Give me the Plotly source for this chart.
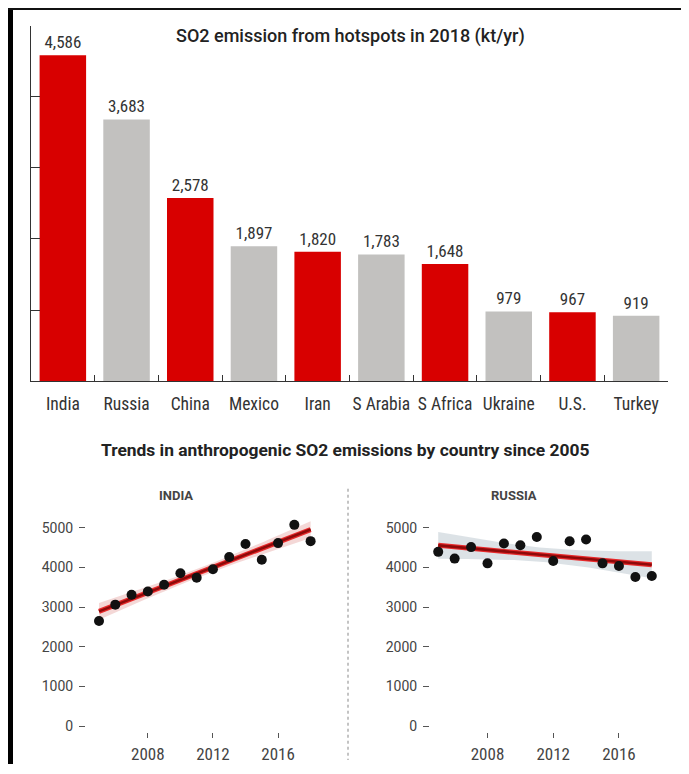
import numpy as np
import plotly.graph_objects as go

# ---------------- data ----------------
countries = ["India", "Russia", "China", "Mexico", "Iran", "S Arabia", "S Africa", "Ukraine", "U.S.", "Turkey"]
emissions_2018 = [4586, 3683, 2578, 1897, 1820, 1783, 1648, 979, 967, 919]
highlighted = ["India", "China", "Iran", "S Africa", "U.S."]

years = [2005, 2006, 2007, 2008, 2009, 2010, 2011, 2012, 2013, 2014, 2015, 2016, 2017, 2018]
india_so2 = [2650, 3060, 3310, 3390, 3560, 3850, 3740, 3950, 4260, 4590, 4190, 4610, 5070, 4660]
russia_so2 = [4390, 4220, 4510, 4100, 4600, 4555, 4765, 4160, 4655, 4700, 4100, 4035, 3755, 3780]

bar_yticks = [0, 1000, 2000, 3000, 4000, 5000]
trend_yticks = [0, 1000, 2000, 3000, 4000, 5000]
trend_xticks = [2008, 2012, 2016]
T_975_DF12 = 2.1788  # t quantile for 95% CI with n-2 = 12 dof

# ---------------- styling ----------------
OFF = 8                      # page body margin of the browser
FW, FH = 689 - 2 * OFF, 774 - 2 * OFF
RED = "#d80000"
GREY = "#c2c1bf"
TXT = "#333333"
COND = "Roboto Condensed, Liberation Sans Narrow, DejaVu Sans Condensed, sans-serif"
GEO = "Roboto, Inter, Lato, sans-serif"


def px(x):
    return (x - OFF) / FW


def py(y):
    return 1 - (y - OFF) / FH


def fit_band(x, y):
    x = np.asarray(x, float)
    y = np.asarray(y, float)
    n = len(x)
    b, a = np.polyfit(x, y, 1)
    resid = y - (a + b * x)
    s = np.sqrt(np.sum(resid ** 2) / (n - 2))
    xm = x.mean()
    sxx = np.sum((x - xm) ** 2)
    xs = np.linspace(x.min(), x.max(), 60)
    yhat = a + b * xs
    se = s * np.sqrt(1 / n + (xs - xm) ** 2 / sxx)
    return xs, yhat, yhat - T_975_DF12 * se, yhat + T_975_DF12 * se


fig = go.Figure()

# bar chart
bar_colors = [RED if c in highlighted else GREY for c in countries]
fig.add_trace(go.Bar(
    x=countries, y=emissions_2018, marker=dict(color=bar_colors, line=dict(width=0)),
    text=[f"{v:,}" for v in emissions_2018], textposition="outside",
    textfont=dict(family=COND, size=17, color=TXT), cliponaxis=False,
    xaxis="x", yaxis="y", showlegend=False, hoverinfo="x+y",
))


def add_trend(xs_data, ys_data, xa, ya, band_color):
    xs, yhat, lo, hi = fit_band(xs_data, ys_data)
    fig.add_trace(go.Scatter(x=np.concatenate([xs, xs[::-1]]), y=np.concatenate([hi, lo[::-1]]),
                             fill="toself", fillcolor=band_color, line=dict(width=0),
                             mode="lines", xaxis=xa, yaxis=ya, showlegend=False, hoverinfo="skip"))
    fig.add_trace(go.Scatter(x=xs, y=yhat, mode="lines", line=dict(color="#e8292b", width=5),
                             xaxis=xa, yaxis=ya, showlegend=False, hoverinfo="skip"))
    fig.add_trace(go.Scatter(x=xs, y=yhat, mode="lines", line=dict(color="#8e0a0a", width=2.6),
                             xaxis=xa, yaxis=ya, showlegend=False, hoverinfo="skip"))
    fig.add_trace(go.Scatter(x=xs_data, y=ys_data, mode="markers",
                             marker=dict(color="#111111", size=10),
                             xaxis=xa, yaxis=ya, showlegend=False))


add_trend(years, india_so2, "x2", "y2", "rgba(240,200,198,0.7)")
add_trend(years, russia_so2, "x3", "y3", "rgba(208,216,222,0.75)")

ytick_font = dict(family=GEO, size=14, color="#444444")
xtick_font = dict(family=COND, size=17, color="#444444")


def trend_x(x0, x1, xr, anchor):
    return dict(domain=[px(x0), px(x1)], range=xr, tickvals=trend_xticks, ticks="outside",
                ticklen=5, tickcolor="#555", tickwidth=1, showgrid=False, zeroline=False,
                showline=False, tickfont=xtick_font, ticklabelstandoff=2, anchor=anchor)


def trend_y(anchor):
    return dict(domain=[py(734), py(515)], range=[-150, 5352], tickvals=trend_yticks,
                ticks="outside", ticklen=6, tickcolor="#555", tickwidth=1.2, showgrid=False,
                zeroline=False, showline=False, tickfont=ytick_font, anchor=anchor,
                ticklabelstandoff=3)


fig.update_layout(
    width=FW, height=FH, margin=dict(l=0, r=0, t=0, b=0),
    paper_bgcolor="white", plot_bgcolor="white",
    bargap=0.27,
    xaxis=dict(domain=[px(31), px(668)], showline=True, linecolor="#333", linewidth=1,
               ticks="inside", tickson="boundaries", ticklen=6, tickcolor="#333",
               tickfont=dict(family=COND, size=17.5, color=TXT), ticklabelstandoff=7,
               tickangle=0, showgrid=False, zeroline=False, anchor="y"),
    yaxis=dict(domain=[py(382), py(26)], range=[0, 5000], tickvals=bar_yticks,
               showticklabels=False, ticks="inside", ticklen=9, tickcolor="#333",
               showline=True, linecolor="#333", linewidth=1, showgrid=False,
               zeroline=False, anchor="x"),
    xaxis2=trend_x(86, 322, [2004.2, 2018.7], "y2"),
    yaxis2=trend_y("x2"),
    xaxis3=trend_x(430, 660, [2004.5, 2018.5], "y3"),
    yaxis3=trend_y("x3"),
    font=dict(family=COND, color=TXT),
)

annotations = [
    dict(text="SO2 emission from hotspots in 2018 (kt/yr)", x=px(350), y=py(36),
         font=dict(family=GEO, size=18, color="#222", weight=500)),
    dict(text="Trends in anthropogenic SO2 emissions by country since 2005", x=px(345), y=py(451),
         font=dict(family=GEO, size=17.4, color="#222", weight=700)),
    dict(text="INDIA", x=px(176), y=py(497), font=dict(family=GEO, size=13, color="#444", weight=700)),
    dict(text="RUSSIA", x=px(514), y=py(497), font=dict(family=GEO, size=13, color="#444", weight=700)),
]
for a in annotations:
    a.update(xref="paper", yref="paper", showarrow=False, xanchor="center", yanchor="middle")
fig.update_layout(annotations=annotations)

shapes = [
    dict(type="rect", x0=px(8), x1=px(13), y0=0, y1=1, fillcolor="black", line=dict(width=0)),
    dict(type="line", x0=px(8), x1=1, y0=py(9), y1=py(9), line=dict(color="#111", width=2)),
    dict(type="line", x0=px(348), x1=px(348), y0=py(490), y1=py(762),
         line=dict(color="#888", width=1, dash="dot")),
]
for s in shapes:
    s.update(xref="paper", yref="paper", layer="above")
fig.update_layout(shapes=shapes)

fig.write_html("out.html")
